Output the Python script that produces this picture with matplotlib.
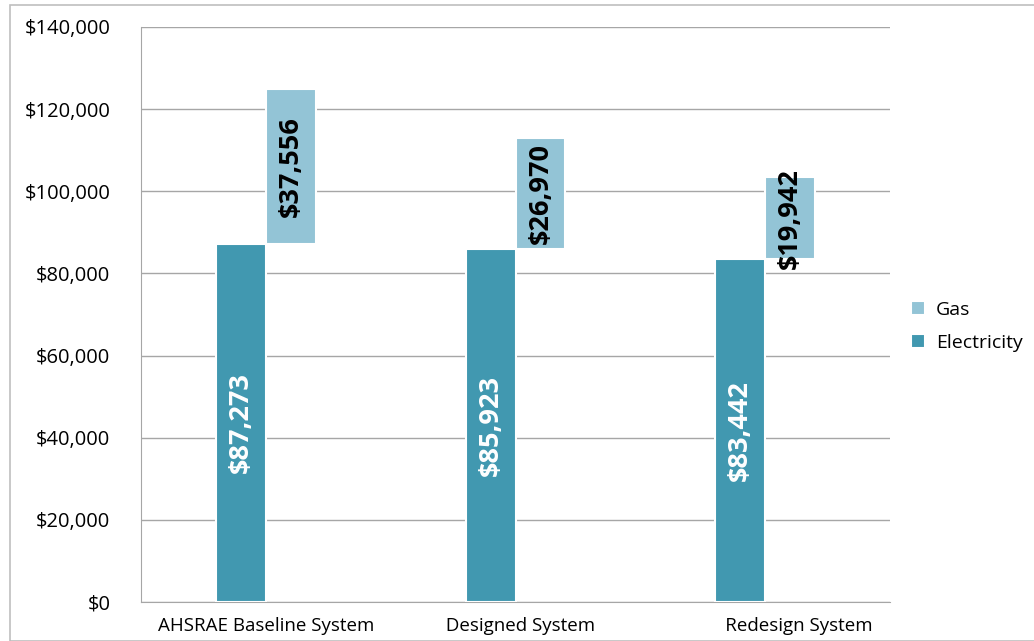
import numpy as np
import matplotlib.pyplot as plt
from matplotlib.patches import Rectangle
from matplotlib.ticker import FuncFormatter

# ---------------------------------------------------------------------------
# Data (annual energy cost, USD)
# ---------------------------------------------------------------------------
systems = ["AHSRAE Baseline System", "Designed System", "Redesign System"]
electricity = [87273, 85923, 83442]
gas = [37556, 26970, 19942]

ELEC_COLOR = "#4198B0"
GAS_COLOR = "#93C4D6"
GRID_COLOR = "#A6A6A6"

plt.rcParams["font.family"] = ["Open Sans", "DejaVu Sans"]

fig = plt.figure(figsize=(10.34, 6.41), dpi=100)
ax = fig.add_axes([0.1364, 0.0608, 0.7243, 0.8971])

# chart-area border like the spreadsheet export
fig.patches.append(Rectangle((10 / 1034, 0.0), 1.0, 1 - 5 / 641,
                             transform=fig.transFigure, fill=False,
                             edgecolor="#BFBFBF", linewidth=1.2, zorder=0))

x = np.arange(len(systems))
w = 0.2
elec_bars = ax.bar(x - w / 2, electricity, width=w, color=ELEC_COLOR,
                   edgecolor="white", linewidth=1.5, label="Electricity", zorder=3)
gas_bars = ax.bar(x + w / 2, gas, width=w, bottom=electricity, color=GAS_COLOR,
                  edgecolor="white", linewidth=1.5, label="Gas", zorder=3)

# value labels inside the bars, rotated like the original
for xi, e, g in zip(x, electricity, gas):
    ax.text(xi - w / 2, e / 2, f"${e:,}", rotation=90, ha="center", va="center",
            color="white", fontsize=19.5, fontweight="bold", zorder=4)
    ax.text(xi + w / 2, e + g / 2, f"${g:,}", rotation=90, ha="center", va="center",
            color="black", fontsize=19.5, fontweight="bold", zorder=4)

ax.set_xlim(-0.5, 2.5)
ax.set_ylim(0, 140000)
ax.set_yticks(np.arange(0, 140001, 20000))
ax.yaxis.set_major_formatter(FuncFormatter(lambda v, _: f"${v:,.0f}"))
ax.set_xticks(x)
ax.set_xticklabels(["AHSRAE Baseline System", "  Designed System",
                    "              Redesign System"], fontsize=13.5)
ax.tick_params(axis="y", labelsize=14.5, length=0, pad=22)
ax.tick_params(axis="x", length=0, pad=11)

ax.grid(axis="y", color=GRID_COLOR, linewidth=1, zorder=0)
ax.set_axisbelow(True)
for side in ["top", "right"]:
    ax.spines[side].set_visible(False)
ax.spines["left"].set_color(GRID_COLOR)
ax.spines["bottom"].set_color(GRID_COLOR)

handles = [gas_bars, elec_bars]
fig.legend(handles, ["Gas", "Electricity"], loc="center left",
           bbox_to_anchor=(0.881, 0.491), frameon=False, fontsize=14,
           handlelength=0.7, handleheight=0.7, handletextpad=0.6,
           labelspacing=0.75, borderaxespad=0, borderpad=0)

fig.savefig("out.png", dpi=100)
